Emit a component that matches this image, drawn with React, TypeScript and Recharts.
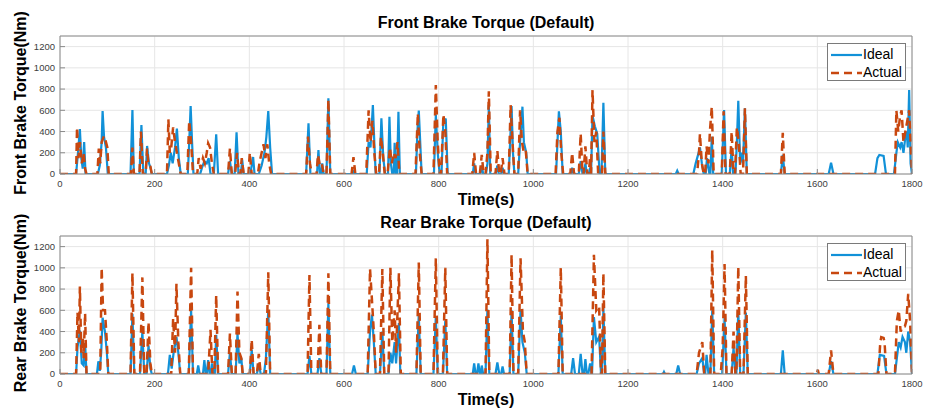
import React from 'react';
import { LineChart, Line, XAxis, YAxis, CartesianGrid } from 'recharts';

const xTicks = [0, 200, 400, 600, 800, 1000, 1200, 1400, 1600, 1800];
const yTicks = [0, 200, 400, 600, 800, 1000, 1200];
const seriesNames = ['Ideal', 'Actual'];
const titles = ['Front Brake Torque (Default)', 'Rear Brake Torque (Default)'];
const yLabels = ['Front Brake Torque(Nm)', 'Rear Brake Torque(Nm)'];
const xLabel = 'Time(s)';

// [time (s), torque (Nm)]
const frontIdeal: [number, number][] = [
  [0,0],[34,0],[38,200],[42,424],[45,150],[48,50],[51,300],[54,0],
  [80,0],[84,80],[88,300],[90,593],[93,350],[97,250],[101,0],
  [149,0],[153,603],[156,0],
  [168,0],[172,462],[176,0],[181,0],[184,264],[188,100],[191,60],[194,0],
  [226,0],[230,80],[234,200],[238,100],[243,250],[247,427],[251,150],[255,0],
  [270,0],[273,300],[276,640],[279,300],[282,0],
  [296,0],[300,60],[305,120],[310,100],[314,150],[318,0],[325,0],[330,374],[334,0],
  [355,0],[359,120],[363,0],[369,0],[373,392],[377,0],[382,0],[385,130],[388,0],
  [402,0],[405,80],[408,160],[411,0],[420,0],[426,80],[432,200],[436,350],[440,593],[444,250],[448,0],
  [520,0],[525,477],[529,0],[543,0],[546,225],[549,0],[552,0],[554,100],[557,0],
  [563,0],[567,713],[571,0],
  [618,0],[620,20],[622,0],
  [648,0],[652,300],[656,250],[661,650],[664,300],[667,0],
  [675,0],[679,524],[683,150],[687,0],
  [693,0],[696,540],[699,100],[702,0],[705,0],[707,295],[710,0],[712,0],[715,587],[718,0],
  [752,0],[755,400],[758,597],[761,300],[764,0],
  [790,0],[794,560],[798,200],[802,0],[806,0],[810,520],[815,515],[819,0],
  [872,0],[875,100],[878,0],[888,0],[891,80],[894,0],[900,0],[903,100],[906,650],[909,0],
  [920,0],[924,80],[927,0],[932,0],[935,60],[938,0],
  [948,0],[951,300],[954,640],[957,200],[960,0],
  [968,0],[972,300],[977,634],[980,300],[985,200],[988,0],
  [1048,0],[1051,300],[1054,590],[1058,400],[1062,0],
  [1079,0],[1082,60],[1085,0],[1096,0],[1100,120],[1104,0],[1107,0],[1110,100],[1113,0],[1117,0],[1120,60],[1122,0],
  [1125,550],[1130,450],[1135,380],[1140,0],[1144,0],[1148,672],[1152,0],
  [1301,0],[1304,30],[1307,0],
  [1338,0],[1343,100],[1348,180],[1352,250],[1356,100],[1360,0],
  [1364,0],[1367,150],[1372,0],[1374,0],[1377,350],[1380,0],
  [1398,0],[1403,603],[1407,0],[1415,0],[1419,250],[1422,0],[1427,0],[1430,300],[1433,690],[1437,100],[1440,200],[1443,100],[1447,618],[1451,0],
  [1523,0],[1527,180],[1531,0],
  [1624,0],[1629,107],[1634,0],
  [1722,0],[1727,150],[1731,179],[1740,170],[1745,0],
  [1762,0],[1767,200],[1770,300],[1775,250],[1778,300],[1782,200],[1786,350],[1789,400],[1791,250],[1794,791],[1797,100],[1800,0],
];

const frontActual: [number, number][] = [
  [0,0],[34,0],[36,440],[39,150],[42,300],[46,100],[50,200],[53,50],[56,0],
  [79,0],[82,240],[85,100],[88,300],[93,358],[96,320],[100,250],[103,0],
  [150,0],[153,250],[156,0],
  [168,0],[171,400],[175,0],[181,0],[184,240],[187,80],[191,70],[194,0],
  [226,0],[229,515],[232,200],[235,250],[239,440],[243,300],[247,200],[251,100],[255,0],
  [269,0],[273,502],[277,300],[281,0],
  [290,0],[293,150],[297,50],[302,150],[306,100],[310,200],[313,290],[317,250],[321,100],[325,0],
  [355,0],[359,240],[363,0],[370,0],[374,200],[378,0],[381,0],[384,150],[388,0],
  [398,0],[401,200],[405,0],[418,0],[422,120],[426,200],[430,280],[434,150],[438,280],[442,100],[446,0],
  [520,0],[524,352],[528,100],[532,0],[542,0],[545,180],[549,80],[553,100],[557,0],
  [563,0],[567,700],[571,0],
  [616,0],[620,160],[624,0],
  [647,0],[652,600],[656,300],[660,500],[664,200],[668,0],
  [674,0],[678,350],[682,200],[686,0],
  [692,0],[697,250],[701,100],[705,200],[709,150],[713,300],[717,0],
  [751,0],[756,570],[760,200],[764,0],
  [789,0],[794,838],[798,300],[802,0],[805,0],[810,560],[814,400],[818,0],
  [871,0],[875,200],[879,0],[887,0],[891,180],[895,0],[899,0],[903,200],[906,780],[910,0],
  [920,0],[924,220],[928,0],[931,0],[935,150],[939,0],
  [948,0],[952,650],[956,300],[960,0],
  [968,0],[972,600],[976,300],[980,200],[984,220],[988,0],
  [1047,0],[1051,400],[1055,530],[1059,200],[1063,0],
  [1078,0],[1082,200],[1086,0],[1096,0],[1100,380],[1104,0],[1106,0],[1110,260],[1114,0],[1117,0],[1120,160],[1122,0],
  [1125,791],[1129,300],[1133,400],[1137,0],[1145,0],[1148,400],[1152,0],
  [1346,0],[1350,200],[1352,380],[1356,100],[1360,0],
  [1363,0],[1366,260],[1370,100],[1373,400],[1377,634],[1381,0],
  [1398,0],[1402,590],[1406,0],[1415,0],[1419,400],[1423,0],[1426,0],[1430,440],[1434,300],[1438,0],[1443,0],[1447,618],[1451,0],
  [1523,0],[1527,389],[1531,0],
  [1764,0],[1767,600],[1771,400],[1775,550],[1778,600],[1782,300],[1786,400],[1790,500],[1794,600],[1797,300],[1800,0],
];

const rearIdeal: [number, number][] = [
  [0,0],[34,0],[37,250],[42,410],[46,100],[50,80],[53,291],[56,0],
  [78,0],[81,120],[84,30],[87,200],[90,530],[95,400],[99,200],[102,0],
  [149,0],[153,567],[157,0],
  [169,0],[174,400],[178,0],[183,0],[187,270],[191,50],[194,0],
  [228,0],[232,180],[236,50],[240,200],[246,350],[250,200],[254,0],
  [272,0],[277,600],[281,0],
  [289,0],[292,80],[295,0],[302,0],[305,130],[308,0],[310,0],[313,130],[316,0],[318,0],[321,100],[325,0],[327,0],[330,370],[334,0],
  [355,0],[359,200],[363,0],[371,0],[375,380],[379,100],[383,150],[386,0],
  [401,0],[405,230],[409,0],[416,0],[420,100],[424,0],[431,0],[435,150],[440,600],[444,0],
  [523,0],[527,170],[531,0],[544,0],[548,150],[552,0],[563,0],[567,667],[571,0],
  [617,0],[621,80],[625,0],
  [650,0],[655,400],[659,560],[663,300],[667,0],
  [676,0],[681,400],[685,0],[694,0],[698,200],[702,100],[707,300],[710,100],[716,480],[719,0],
  [753,0],[758,560],[762,0],
  [789,0],[794,540],[798,0],[809,0],[814,500],[818,0],
  [872,0],[875,100],[878,0],[881,0],[884,100],[887,0],[889,0],[891,80],[894,0],
  [899,0],[903,607],[907,0],
  [920,0],[924,110],[928,0],[932,0],[935,70],[938,0],
  [950,0],[954,600],[958,0],[968,0],[973,610],[977,300],[982,200],[986,0],
  [1053,0],[1058,550],[1062,0],
  [1080,0],[1084,150],[1088,0],[1096,0],[1100,190],[1104,0],[1107,0],[1110,140],[1113,0],[1116,0],[1120,100],[1123,0],
  [1124,0],[1128,535],[1133,300],[1139,350],[1143,0],[1145,0],[1148,620],[1152,0],
  [1274,0],[1276,20],[1278,0],[1302,0],[1306,80],[1310,0],
  [1345,0],[1350,100],[1357,150],[1361,0],[1363,0],[1366,180],[1370,0],[1374,0],[1378,600],[1382,0],
  [1399,0],[1404,530],[1408,0],[1419,0],[1423,250],[1427,0],[1429,0],[1433,600],[1437,0],[1444,0],[1449,580],[1453,0],
  [1523,0],[1527,222],[1531,0],
  [1624,0],[1629,120],[1634,0],
  [1727,0],[1732,180],[1741,170],[1746,0],
  [1764,0],[1768,150],[1772,300],[1776,250],[1780,350],[1785,300],[1788,200],[1792,400],[1796,300],[1800,0],
];

const rearActual: [number, number][] = [
  [0,0],[34,0],[37,580],[40,300],[42,823],[45,200],[48,350],[50,150],[53,573],[56,0],
  [85,0],[88,1000],[91,600],[95,600],[99,300],[102,0],
  [149,0],[153,950],[157,0],
  [169,0],[174,910],[178,0],[183,0],[187,490],[191,100],[194,0],
  [235,0],[239,520],[243,200],[246,850],[250,300],[254,0],
  [272,0],[277,1000],[281,0],
  [313,0],[318,416],[322,0],[326,0],[330,740],[334,0],
  [355,0],[359,380],[363,0],[371,0],[375,776],[379,200],[383,150],[386,0],
  [401,0],[405,325],[409,0],[416,0],[420,190],[424,0],[435,0],[440,958],[444,0],
  [523,0],[527,933],[531,0],[544,0],[548,463],[552,0],[563,0],[567,948],[571,0],
  [650,0],[655,990],[659,700],[663,400],[667,0],
  [676,0],[681,990],[685,0],[694,0],[698,1000],[702,300],[707,600],[710,200],[716,948],[720,0],
  [753,0],[758,1050],[762,0],
  [789,0],[794,1090],[798,0],[809,0],[814,1000],[818,0],
  [899,0],[903,1270],[907,0],
  [950,0],[954,1124],[958,0],[968,0],[973,1090],[978,400],[982,300],[986,0],
  [1053,0],[1058,1000],[1062,0],
  [1123,0],[1128,1124],[1133,600],[1139,640],[1143,0],[1145,0],[1148,948],[1152,0],
  [1345,0],[1350,200],[1357,300],[1361,0],[1374,0],[1378,1168],[1382,0],
  [1396,0],[1400,250],[1404,1036],[1408,0],[1419,0],[1423,400],[1427,0],[1429,0],[1433,1011],[1437,0],[1444,0],[1449,926],[1453,0],
  [1599,0],[1601,40],[1603,0],
  [1624,0],[1629,222],[1634,0],
  [1729,0],[1733,300],[1735,347],[1740,340],[1742,300],[1746,0],
  [1764,0],[1768,500],[1772,600],[1776,400],[1780,450],[1785,450],[1788,500],[1792,755],[1796,500],[1800,0],
];

const BLUE = '#1191D8';
const ORANGE = '#C8470F';
const FONT = '"Liberation Sans", Arial, Helvetica, sans-serif';
const BOX = '#8a8a8a';
const DASH = '8 5';

const toRows = (pts: [number, number][]) => pts.map(([t, v]) => ({ t, v }));

function Panel({ top, ideal, actual }: any) {
  const W = 926;
  const H = 200;
  const tickStyle = { fontSize: 9.5, fill: '#404040', fontFamily: FONT };
  return (
    <div style={{ position: 'absolute', left: 0, top, width: W, height: H }}>
      <LineChart width={W} height={H} margin={{ top: 35, right: 13, left: 0, bottom: 6 }}>
        <CartesianGrid stroke="#e6e6e6" strokeWidth={1} />
        <XAxis dataKey="t" type="number" domain={[0, 1800]} ticks={xTicks} interval={0}
          allowDataOverflow tickSize={-5} tickMargin={11} height={20}
          axisLine={{ stroke: BOX }} tickLine={{ stroke: BOX }} tick={tickStyle} />
        <XAxis xAxisId="top" orientation="top" dataKey="t" type="number" domain={[0, 1800]} ticks={xTicks}
          interval={0} allowDataOverflow tickSize={-5} height={1} tick={false}
          axisLine={{ stroke: BOX }} tickLine={{ stroke: BOX }} />
        <YAxis type="number" domain={[0, 1300]} ticks={yTicks} interval={0} allowDataOverflow
          tickSize={-5} tickMargin={10} width={60}
          axisLine={{ stroke: BOX }} tickLine={{ stroke: BOX }} tick={tickStyle} />
        <YAxis yAxisId="right" orientation="right" type="number" domain={[0, 1300]} ticks={yTicks}
          interval={0} allowDataOverflow tickSize={-5} width={1} tick={false}
          axisLine={{ stroke: BOX }} tickLine={{ stroke: BOX }} />
        <Line data={toRows(ideal)} dataKey="v" name={seriesNames[0]} type="linear" stroke={BLUE}
          strokeWidth={2.2} dot={false} activeDot={false} isAnimationActive={false} />
        <Line data={toRows(actual)} dataKey="v" name={seriesNames[1]} type="linear" stroke={ORANGE}
          strokeWidth={2.5} strokeDasharray={DASH} dot={false} activeDot={false} isAnimationActive={false} />
      </LineChart>
      <div style={{ position: 'absolute', left: 827, top: 43, width: 79, height: 38, background: '#fff',
        border: '1px solid #7a7a7a', boxSizing: 'border-box', fontFamily: FONT, fontSize: 14 }}>
        <svg width={79} height={38} style={{ position: 'absolute', left: -1, top: -1 }}>
          <line x1={4} x2={35} y1={12} y2={12} stroke={BLUE} strokeWidth={2.2} />
          <line x1={4} x2={35} y1={30} y2={30} stroke={ORANGE} strokeWidth={2.5} strokeDasharray={DASH} />
          <text x={36} y={12} dominantBaseline="middle" fontFamily={FONT} fontSize={14} fill="#000">{seriesNames[0]}</text>
          <text x={36} y={30} dominantBaseline="middle" fontFamily={FONT} fontSize={14} fill="#000">{seriesNames[1]}</text>
        </svg>
      </div>
    </div>
  );
}

function Labels({ top, title, yLabel }: any) {
  return (
    <g transform={`translate(0,${top})`}>
      <text x={486} y={24} textAnchor="middle" dominantBaseline="middle" fontFamily={FONT}
        fontWeight="bold" fontSize={16} fill="#000">{title}</text>
      <text x={486} y={201} textAnchor="middle" dominantBaseline="middle" fontFamily={FONT}
        fontWeight="bold" fontSize={16} fill="#000">{xLabel}</text>
      <text x={0} y={0} transform="translate(22,103) rotate(-90)" textAnchor="middle"
        dominantBaseline="middle" fontFamily={FONT} fontWeight="bold" fontSize={16} fill="#000">{yLabel}</text>
    </g>
  );
}

export default function App() {
  return (
    <div style={{ position: 'absolute', left: 0, top: 0, width: 926, height: 412, background: '#fff', overflow: 'hidden' }}>
      <Panel top={0} ideal={frontIdeal} actual={frontActual} />
      <Panel top={200} ideal={rearIdeal} actual={rearActual} />
      <svg width={926} height={412} style={{ position: 'absolute', left: 0, top: 0, pointerEvents: 'none' }}>
        <Labels top={0} title={titles[0]} yLabel={yLabels[0]} />
        <Labels top={200} title={titles[1]} yLabel={yLabels[1]} />
      </svg>
    </div>
  );
}
